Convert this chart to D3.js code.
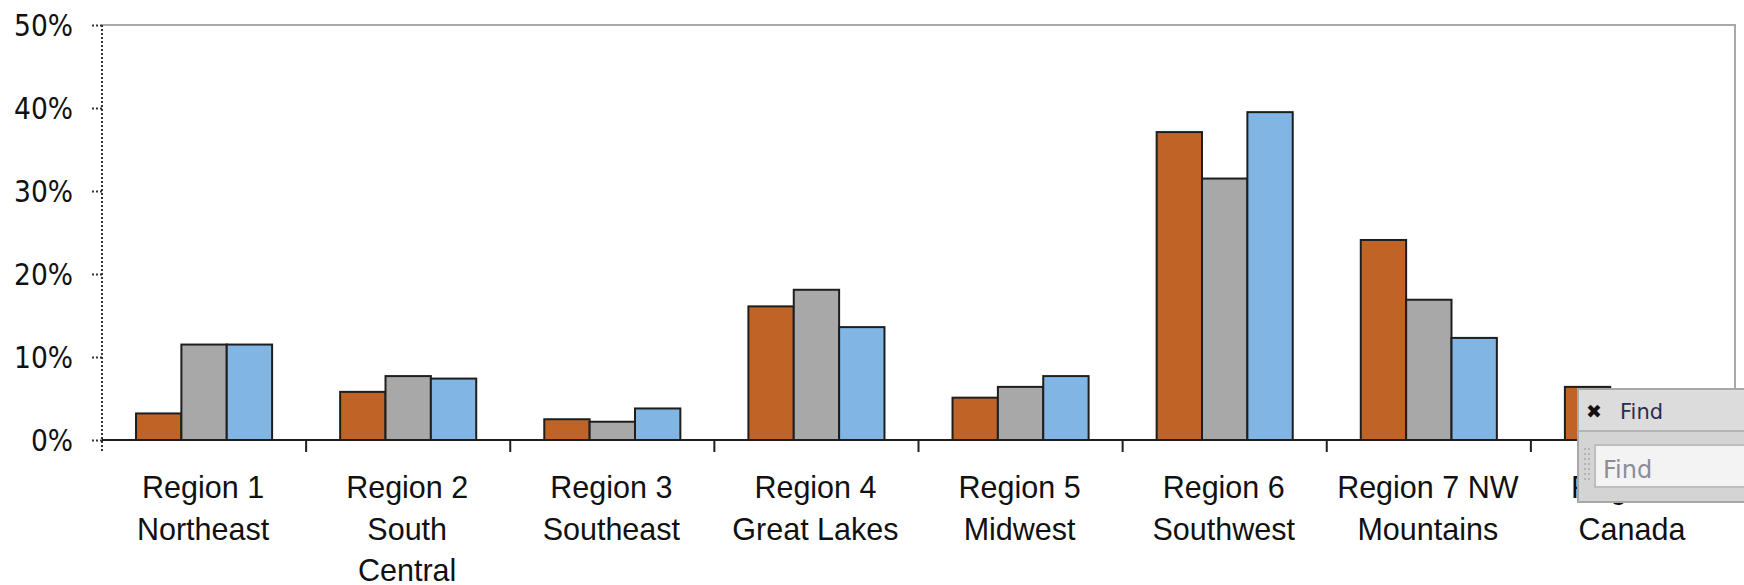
<!DOCTYPE html>
<html>
<head>
<meta charset="utf-8">
<script src="https://cdn.jsdelivr.net/npm/d3@7/dist/d3.min.js"></script>
<style>
  html, body { margin: 0; padding: 0; background: #fff; }
  svg { display: block; }
</style>
</head>
<body>
<svg id="chart" width="1744" height="585"></svg>
<script>
// ---- data ----
const categories = ["Region 1", "Region 2", "Region 3", "Region 4", "Region 5", "Region 6", "Region 7", "Region 8"];
const categoryLabels = [
  ["Region 1", "Northeast"],
  ["Region 2", "South", "Central"],
  ["Region 3", "Southeast"],
  ["Region 4", "Great Lakes"],
  ["Region 5", "Midwest"],
  ["Region 6", "Southwest"],
  ["Region 7 NW", "Mountains"],
  ["Region 8", "Canada"]
];
const seriesNames = ["Series A", "Series B", "Series C"];
const seriesA = [0.032, 0.058, 0.025, 0.161, 0.051, 0.371, 0.241, 0.064];
const seriesB = [0.115, 0.077, 0.022, 0.181, 0.064, 0.315, 0.169, null]; // Region 8 hidden behind the Find box
const seriesC = [0.115, 0.074, 0.038, 0.136, 0.077, 0.395, 0.123, null]; // Region 8 hidden behind the Find box
const yTickValues = [0, 0.1, 0.2, 0.3, 0.4, 0.5];
const yTickLabels = ["0%", "10%", "20%", "30%", "40%", "50%"];
const seriesColors = ["#BF6426", "#A8A8A8", "#81B5E3"];

// ---- layout ----
const plotLeft = 102, plotRight = 1735, plotTop = 25, zeroY = 440;
const svg = d3.select("#chart");

const x = d3.scaleBand().domain(categories).range([plotLeft, plotRight]).paddingInner(0).paddingOuter(0);
const x1 = d3.scaleBand().domain(seriesNames).range([0, x.bandwidth()]).paddingInner(0).paddingOuter(0.75);
const y = d3.scaleLinear().domain([0, 0.5]).range([zeroY, plotTop]);

const allSeries = [seriesA, seriesB, seriesC];

// plot frame (top + right, gray)
svg.append("path")
  .attr("d", `M${plotLeft},${y(0.5)}H${plotRight}V${zeroY}`)
  .attr("fill", "none").attr("stroke", "#a9a9a9").attr("stroke-width", 2);

// bars
const groups = svg.append("g").selectAll("g")
  .data(categories)
  .join("g")
  .attr("transform", d => `translate(${x(d)},0)`);

groups.selectAll("rect")
  .data((d, i) => allSeries.map((s, j) => ({ key: seriesNames[j], value: s[i], color: seriesColors[j] })).filter(e => e.value != null))
  .join("rect")
  .attr("x", d => x1(d.key))
  .attr("width", x1.bandwidth())
  .attr("y", d => y(d.value))
  .attr("height", d => y(0) - y(d.value))
  .attr("fill", d => d.color)
  .attr("stroke", "#1e1e1e")
  .attr("stroke-width", 2);

// y axis (dotted)
const yAxis = d3.axisLeft(y)
  .tickValues(yTickValues)
  .tickFormat((d, i) => yTickLabels[i])
  .tickSize(12)
  .tickPadding(17)
  .tickSizeOuter(0);
const gy = svg.append("g").attr("transform", `translate(${plotLeft},0)`).call(yAxis);
gy.select(".domain").remove();
gy.selectAll(".tick line").attr("stroke", "#333").attr("stroke-width", 2).attr("stroke-dasharray", "2,2");
gy.selectAll(".tick text")
  .attr("fill", "#111")
  .style("font-family", "'DejaVu Sans Condensed', 'DejaVu Sans', sans-serif")
  .style("font-stretch", "condensed")
  .style("font-size", "29.5px")
  .attr("dy", "0.36em");
gy.append("line")
  .attr("x1", 0).attr("x2", 0).attr("y1", plotTop).attr("y2", zeroY + 12)
  .attr("stroke", "#333").attr("stroke-width", 2).attr("stroke-dasharray", "2,2");

// x axis line and boundary ticks
svg.append("line")
  .attr("x1", plotLeft).attr("x2", plotRight).attr("y1", zeroY).attr("y2", zeroY)
  .attr("stroke", "#1e1e1e").attr("stroke-width", 2);
const boundaries = categories.map(c => x(c)).concat([x(categories[categories.length - 1]) + x.bandwidth()]);
svg.append("g").selectAll("line")
  .data(boundaries.slice(1))
  .join("line")
  .attr("x1", d => d).attr("x2", d => d)
  .attr("y1", zeroY).attr("y2", zeroY + 12)
  .attr("stroke", "#1e1e1e").attr("stroke-width", 2);

// category labels
const lbl = svg.append("g")
  .style("font-family", "'Liberation Sans', Arial, sans-serif")
  .style("font-size", "30.5px")
  .attr("fill", "#111");
lbl.selectAll("text")
  .data(categories)
  .join("text")
  .attr("text-anchor", "middle")
  .attr("transform", d => `translate(${x(d) + x.bandwidth() / 2 - 1},0)`)
  .selectAll("tspan")
  .data((d, i) => categoryLabels[i])
  .join("tspan")
  .attr("x", 0)
  .attr("y", (d, k) => 498 + k * 41.5)
  .text(d => d);

// ---- overlay: the "Find" box present in the source screenshot ----
const fb = svg.append("g");
fb.append("rect").attr("x", 1578).attr("y", 389).attr("width", 180).attr("height", 113)
  .attr("fill", "#d4d4d4").attr("stroke", "#a8a8a8").attr("stroke-width", 2);
fb.append("rect").attr("x", 1579).attr("y", 390).attr("width", 180).attr("height", 40)
  .attr("fill", "#dcdcdc");
fb.append("line").attr("x1", 1579).attr("x2", 1744).attr("y1", 431).attr("y2", 431)
  .attr("stroke", "#b4b4b4").attr("stroke-width", 2);
fb.append("text").attr("x", 1594).attr("y", 418).attr("text-anchor", "middle")
  .style("font-family", "'DejaVu Sans', sans-serif").style("font-size", "19px").style("font-weight", "bold")
  .attr("fill", "#111").text("✖");
fb.append("text").attr("x", 1620).attr("y", 419)
  .style("font-family", "'DejaVu Sans', sans-serif").style("font-size", "21px")
  .attr("fill", "#2b2b55").text("Find");
// gripper dots
const dots = d3.range(0, 7).flatMap(r => [0, 1].map(c => [1585 + c * 4, 449 + r * 5]));
fb.selectAll("circle.grip").data(dots).join("circle")
  .attr("cx", d => d[0]).attr("cy", d => d[1]).attr("r", 1).attr("fill", "#aaa");
fb.append("rect").attr("x", 1595).attr("y", 445).attr("width", 160).attr("height", 42)
  .attr("fill", "#f3f3f3").attr("stroke", "#bdbdbd").attr("stroke-width", 2);
fb.append("text").attr("x", 1603).attr("y", 478)
  .style("font-family", "'DejaVu Sans', sans-serif").style("font-size", "24px")
  .attr("fill", "#8c8c98").text("Find");
</script>
</body>
</html>
